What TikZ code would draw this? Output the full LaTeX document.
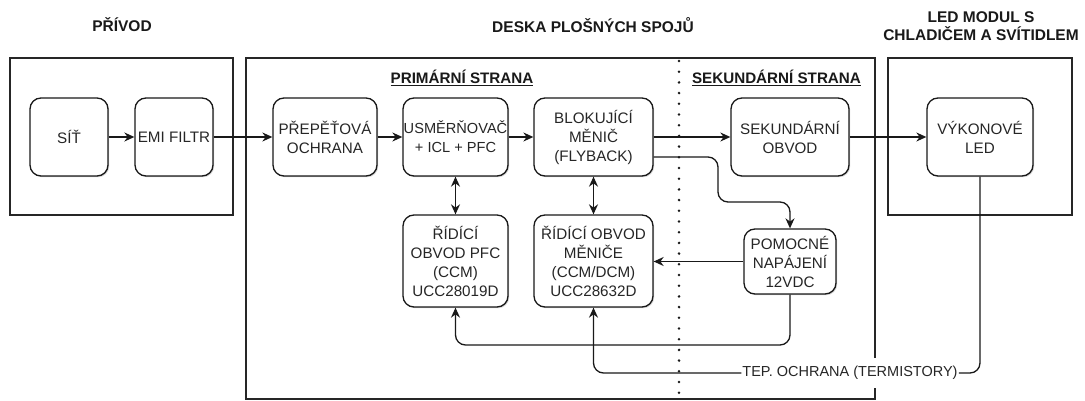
\documentclass[tikz,border=0pt]{standalone}
\usepackage{fontspec}
\setmainfont{Liberation Sans}
\usetikzlibrary{arrows.meta,calc,shadows}
\begin{document}
\begin{tikzpicture}[x=1pt,y=-1pt,
  shd/.style={drop shadow={shadow xshift=1.2pt,shadow yshift=-1.2pt,opacity=0.18,fill=black}},
  frame/.style={draw=black!85, line width=1.4pt, fill=white, inner sep=0pt, shd},
  blk/.style={draw=black!90, line width=1.3pt, rounded corners=11pt, fill=white, align=center,
    inner sep=0pt, text=black!85, font=\fontsize{15.2}{19}\selectfont, shd},
  hdr/.style={align=center, text=black!90, font=\bfseries\fontsize{15.5}{18}\selectfont},
  side/.style={text=black!90, font=\bfseries\fontsize{15.2}{18}\selectfont},
  arr/.style={-{Stealth[length=10pt,width=9pt]}, line width=1.3pt, draw=black!90},
  darr/.style={{Stealth[length=10pt,width=9pt]}-{Stealth[length=10pt,width=9pt]}, line width=1.3pt, draw=black!90},
  wire/.style={line width=1.3pt, draw=black!90},
  dotline/.style={line width=2.8pt, line cap=round, dash pattern=on 0pt off 10.7pt, draw=black!90}
]
\useasboundingbox (0,0) rectangle (1085,401);

% frames
\node[frame, minimum width=223pt, minimum height=157pt] (privod) at (121.5,136.5) {};
\node[frame, minimum width=629pt, minimum height=341pt] (dps) at (560.5,228.5) {};
\node[frame, minimum width=184pt, minimum height=157pt] (ledm) at (980,136.5) {};

% headers
\node[hdr] (hprivod) at (122,25) {PŘÍVOD};
\node[hdr] (hdps) at (593,25) {DESKA PLOŠNÝCH SPOJŮ};
\node[hdr] (hled) at (981,26) {LED MODUL S\\CHLADIČEM A SVÍTIDLEM};

\node[side] (prim) at (462,78) {\underline{PRIMÁRNÍ STRANA}};
\node[side] (sekst) at (776.5,78) {\underline{SEKUNDÁRNÍ STRANA}};

% dotted divider
\coordinate (dtop) at (679,61);
\coordinate (dbot) at (679,399);
\draw[dotline] (dtop) -- (dbot);

% blocks
\node[blk, minimum width=78pt, minimum height=78pt] (sit) at (69,137) {SÍŤ};
\node[blk, minimum width=78pt, minimum height=78pt] (emi) at (174,137) {EMI FILTR};
\node[blk, minimum width=104pt, minimum height=78pt] (prep) at (325,137) {PŘEPĚŤOVÁ\\OCHRANA};
\node[blk, minimum width=105pt, minimum height=78pt, font=\fontsize{14.6}{19}\selectfont] (usm) at (455.5,137) {USMĚRŇOVAČ\\+ ICL + PFC};
\node[blk, minimum width=119pt, minimum height=78pt] (blok) at (593.5,137) {BLOKUJÍCÍ\\MĚNIČ\\(FLYBACK)};
\node[blk, minimum width=118pt, minimum height=78pt] (sek) at (790,137) {SEKUNDÁRNÍ\\OBVOD};
\node[blk, minimum width=106pt, minimum height=78pt] (led) at (980,137) {VÝKONOVÉ\\LED};
\node[blk, minimum width=105pt, minimum height=92pt] (rpfc) at (455.5,261) {ŘÍDÍCÍ\\OBVOD PFC\\(CCM)\\UCC28019D};
\node[blk, minimum width=119pt, minimum height=92pt] (rmen) at (593.5,261) {ŘÍDÍCÍ OBVOD\\MĚNIČE\\(CCM/DCM)\\UCC28632D};
\node[blk, minimum width=92pt, minimum height=65pt] (pom) at (790,261.5) {POMOCNÉ\\NAPÁJENÍ\\12VDC};

% main chain
\draw[arr] (sit) -- (emi);
\draw[arr] (emi) -- (prep);
\draw[arr] (prep) -- (usm);
\draw[arr] (usm) -- (blok);
\draw[arr] (blok) -- (sek);
\draw[arr] (sek) -- (led);

% control links
\draw[darr] (usm) -- (rpfc);
\draw[darr] (blok) -- (rmen);

% flyback to auxiliary supply
\coordinate (k1) at (718,202);
\draw[arr, rounded corners=10pt] ($(blok.east)+(0,20)$) -| (k1) -| (pom.north);

% auxiliary supply to controllers
\draw[arr] (pom.west) -- (pom.west -| rmen.east);
\coordinate (y345) at (0,345);
\draw[arr, rounded corners=10pt] (pom.south) |- (rpfc.south |- y345) -- (rpfc.south);

% thermal protection
\node[fill=white, inner xsep=1pt, inner ysep=8pt, text=black!85, font=\fontsize{14.5}{18}\selectfont] (tep) at (850,373) {TEP. OCHRANA (TERMISTORY)};
\draw[wire, rounded corners=10pt] (led.south) |- (tep.east);
\draw[arr, rounded corners=10pt] (tep.west) -| (rmen.south);
\end{tikzpicture}
\end{document}
